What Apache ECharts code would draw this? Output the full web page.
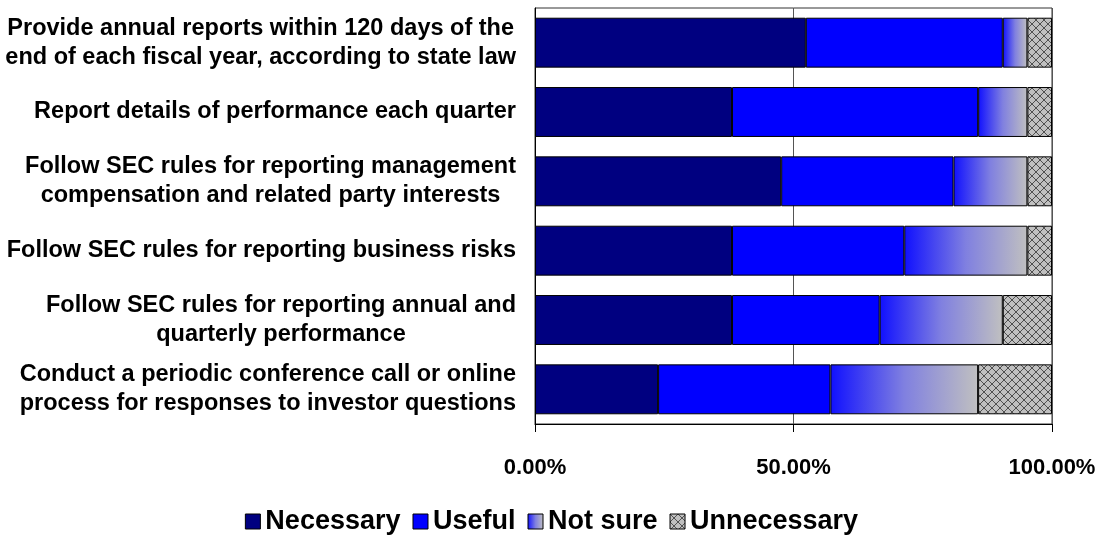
<!DOCTYPE html>
<html>
<head>
<meta charset="utf-8">
<script src="https://cdn.jsdelivr.net/npm/echarts@6/dist/echarts.min.js"></script>
<style>
    html, body { margin: 0; padding: 0; background: #fff; }
    #chart { width: 1103px; height: 542px; }
</style>
</head>
<body>
<div id="chart"></div>
<script>
// categories, top to bottom
const categories = [
    'Provide annual reports within 120 days of the\nend of each fiscal year, according to state law',
    'Report details of performance each quarter',
    'Follow SEC rules for reporting management\ncompensation and related party interests',
    'Follow SEC rules for reporting business risks',
    'Follow SEC rules for reporting annual and\nquarterly performance',
    'Conduct a periodic conference call or online\nprocess for responses to investor questions'
];

// percent of respondents
const necessary   = [52.38, 38.10, 47.62, 38.10, 38.10, 23.81];
const useful      = [38.10, 47.62, 33.33, 33.33, 28.57, 33.33];
const notSure     = [4.76, 9.52, 14.29, 23.81, 23.81, 28.57];
const unnecessary = [4.76, 4.76, 4.76, 4.76, 9.52, 14.29];

const xTicks = [0, 50, 100];

// crosshatch fill for "Unnecessary"
function hatchPattern() {
    const c = document.createElement('canvas');
    c.width = 8;
    c.height = 8;
    const ctx = c.getContext('2d');
    ctx.fillStyle = '#c0c0c0';
    ctx.fillRect(0, 0, 8, 8);
    ctx.strokeStyle = '#505050';
    ctx.lineWidth = 1;
    ctx.beginPath();
    ctx.moveTo(0, 0); ctx.lineTo(8, 8);
    ctx.moveTo(8, 0); ctx.lineTo(0, 8);
    ctx.stroke();
    return c;
}

const chart = echarts.init(document.getElementById('chart'));

const notSureFill = new echarts.graphic.LinearGradient(0, 0, 1, 0, [
    { offset: 0, color: '#1010ff' },
    { offset: 0.5, color: '#8080e0' },
    { offset: 1, color: '#c0c0c0' }
]);
const hatchFill = { image: hatchPattern(), repeat: 'repeat' };

const font = 'Arial, "Liberation Sans", sans-serif';

function barSeries(name, data, color) {
    return {
        name: name,
        type: 'bar',
        stack: 'total',
        barCategoryGap: '28%',
        data: data,
        itemStyle: {
            color: color,
            borderColor: '#000',
            borderWidth: 1
        }
    };
}

chart.setOption({
    animation: false,
    textStyle: { fontFamily: font },
    grid: {
        left: 535,
        right: 51,
        top: 8,
        bottom: 118,
        show: true,
        borderColor: '#333',
        borderWidth: 1,
        containLabel: false
    },
    legend: {
        top: 503,
        left: 'center',
        icon: 'rect',
        itemWidth: 15,
        itemHeight: 15,
        itemGap: 12,
        itemStyle: { borderColor: '#000', borderWidth: 1 },
        textStyle: {
            fontSize: 27,
            fontWeight: 'bold',
            color: '#000',
            fontFamily: font
        },
        data: ['Necessary', 'Useful', 'Not sure', 'Unnecessary']
    },
    xAxis: {
        type: 'value',
        min: 0,
        max: 100,
        interval: 50,
        axisLine: { show: true, lineStyle: { color: '#000' } },
        axisTick: { show: true, length: 8, lineStyle: { color: '#000' } },
        splitLine: { show: true, lineStyle: { color: '#555', width: 1 } },
        axisLabel: {
            margin: 33,
            fontSize: 22,
            fontWeight: 'bold',
            color: '#000',
            formatter: function (v) {
                return xTicks.indexOf(v) >= 0 ? v.toFixed(2) + '%' : '';
            }
        }
    },
    yAxis: {
        type: 'category',
        inverse: true,
        data: categories,
        axisLine: { show: true, lineStyle: { color: '#000' } },
        axisTick: { show: false },
        axisLabel: {
            margin: 19,
            fontSize: 23.5,
            fontWeight: 'bold',
            color: '#000',
            align: 'right',
            lineHeight: 29,
            formatter: function (v) {
                return v.split('\n').map(function (s) { return '{c|' + s + '}'; }).join('\n');
            },
            rich: {
                c: {
                    align: 'center',
                    fontSize: 23.5,
                    fontWeight: 'bold',
                    color: '#000',
                    lineHeight: 29
                }
            }
        }
    },
    series: [
        barSeries('Necessary', necessary, '#000080'),
        barSeries('Useful', useful, '#0000ff'),
        barSeries('Not sure', notSure, notSureFill),
        barSeries('Unnecessary', unnecessary, hatchFill)
    ]
});
</script>
</body>
</html>
